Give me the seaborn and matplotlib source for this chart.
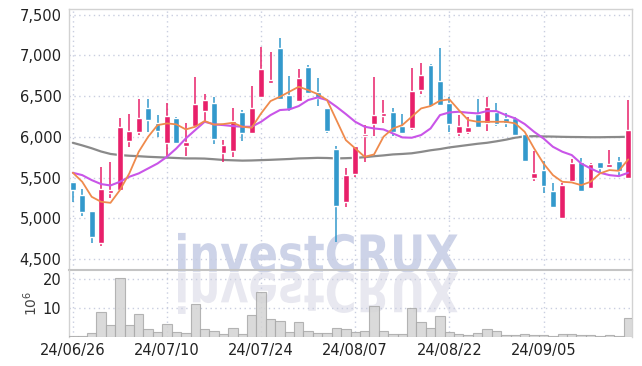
import numpy as np
import pandas as pd
import matplotlib
matplotlib.use('Agg')
import matplotlib.pyplot as plt
import matplotlib.transforms as mtransforms
from matplotlib.textpath import TextPath
from matplotlib.patches import PathPatch
from matplotlib.font_manager import FontProperties
from matplotlib.ticker import FuncFormatter
import seaborn as sns

# daily OHLC (KRW)
open_ = [5444, 5284, 5088, 4699, 5305, 5346, 5952, 6062, 6353, 6169, 5927, 6230, 5890, 6132, 6321,
         6411, 5796, 5829, 6304, 6050, 6492, 6656, 7090, 6513, 6443, 6861, 6550, 6357, 5850, 5194,
         5538, 6009, 6153, 6259, 6300, 6132, 6103, 6574, 6881, 6689, 6419, 6050, 6062, 6275, 6165,
         6308, 6226, 6226, 6034, 5497, 5592, 5333, 5006, 5456, 5686, 5366, 5694, 5633, 5702, 5497]
close = [5346, 5080, 4773, 5358, 5346, 6120, 6071, 6230, 6206, 6075, 6255, 5927, 5935, 6398, 6451,
         5968, 5898, 6198, 6050, 6353, 6832, 6697, 6464, 6337, 6722, 6533, 6472, 6075, 5153, 5530,
         5886, 6030, 6263, 6279, 6062, 6050, 6562, 6758, 6378, 6390, 6153, 6132, 6116, 6116, 6362,
         6157, 6173, 6022, 5706, 5551, 5399, 5141, 5407, 5673, 5333, 5665, 5620, 5653, 5583, 6083]
high = [5450, 5354, 5088, 5624, 5686, 6226, 6275, 6460, 6460, 6267, 6419, 6247, 6173, 6738, 6521,
        6492, 5960, 6349, 6329, 6623, 7107, 7037, 7209, 6746, 6828, 6881, 6718, 6357, 5890, 5612,
        5886, 6144, 6730, 6452, 6349, 6275, 6849, 6902, 6894, 7086, 6484, 6267, 6247, 6460, 6484,
        6419, 6296, 6247, 6034, 5829, 5706, 5428, 5436, 5727, 5735, 5673, 5694, 5837, 5747, 6452]
low = [5203, 5031, 4699, 4662, 5243, 5346, 5870, 6021, 6062, 6001, 5755, 5927, 5763, 6132, 6185,
       5911, 5686, 5755, 5952, 6050, 6492, 6644, 6452, 6320, 6443, 6521, 6382, 6042, 4703, 5141,
       5510, 5686, 6009, 6173, 6009, 6050, 6083, 6525, 6378, 6390, 6062, 6009, 6034, 6116, 6075,
       6132, 6124, 6022, 5706, 5456, 5313, 5141, 5006, 5436, 5333, 5366, 5538, 5633, 5530, 5489]

# volume in millions of shares
volume = [0.55, 0.6, 1.5, 8.6, 4.2, 20.4, 4.2, 8.0, 2.8, 1.8, 4.6, 1.8, 1.5, 11.5, 2.8,
          2.2, 1.2, 3.2, 1.2, 7.7, 15.5, 6.2, 5.5, 1.8, 5.2, 2.2, 1.5, 1.5, 3.1, 2.8,
          1.8, 2.2, 10.8, 2.2, 1.2, 1.2, 10.1, 5.2, 3.1, 7.3, 1.8, 1.2, 0.7, 1.5, 2.8,
          2.1, 0.7, 0.7, 1.2, 0.7, 0.7, 0.4, 1.2, 1.2, 0.7, 0.7, 0.4, 0.7, 0.4, 6.5]

# moving average lines as drawn
ma5 = [5559, 5448, 5264, 5203, 5190, 5346, 5551, 5817, 6001, 6144, 6165, 6153, 6091, 6124, 6194,
       6150, 6157, 6173, 6124, 6112, 6288, 6439, 6492, 6554, 6615, 6574, 6525, 6452, 6206, 5960,
       5858, 5755, 5784, 6001, 6103, 6144, 6247, 6349, 6378, 6444, 6460, 6329, 6206, 6185, 6185,
       6185, 6185, 6165, 6062, 5858, 5673, 5530, 5448, 5440, 5407, 5448, 5551, 5592, 5583, 5723]
ma10 = [5559, 5530, 5469, 5420, 5403, 5448, 5510, 5551, 5612, 5673, 5755, 5858, 5980, 6083, 6185,
        6153, 6144, 6132, 6124, 6124, 6185, 6267, 6329, 6337, 6378, 6452, 6484, 6452, 6370, 6280,
        6185, 6124, 6103, 6091, 6042, 5993, 5989, 6022, 6103, 6267, 6300, 6308, 6296, 6288, 6316,
        6316, 6267, 6226, 6157, 6062, 5980, 5878, 5817, 5776, 5673, 5612, 5559, 5530, 5518, 5559]
ma_long = [5927, 5895, 5860, 5820, 5790, 5776, 5768, 5762, 5755, 5750, 5745, 5740, 5735, 5735, 5733,
           5725, 5716, 5712, 5708, 5710, 5714, 5718, 5723, 5728, 5735, 5738, 5742, 5740, 5735, 5738,
           5742, 5750, 5762, 5772, 5784, 5790, 5798, 5815, 5835, 5850, 5870, 5885, 5900, 5915, 5927,
           5945, 5965, 5990, 6005, 6008, 6005, 6003, 6000, 5998, 5997, 5995, 5995, 5997, 5998, 6001]

tick_pos = [0, 10, 20, 30, 40, 50]
tick_labels = ['24/06/26', '24/07/10', '24/07/24', '24/08/07', '24/08/22', '24/09/05']

df = pd.DataFrame({'open': open_, 'close': close, 'high': high, 'low': low,
                   'volume': volume, 'ma5': ma5, 'ma10': ma10, 'ma_long': ma_long})
df['i'] = np.arange(len(df))

UP = '#e8206a'
DOWN = '#3399cc'
GRID = '#c9cee0'

sns.set_style('white')
plt.rcParams['font.family'] = ['DejaVu Sans']

fig = plt.figure(figsize=(6.42, 3.66), dpi=100)
W, H = 642, 366
L, R = 68.5, 632
ax1 = fig.add_axes([L / W, 1 - 270 / H, (R - L) / W, (270 - 9.3) / H])
ax2 = fig.add_axes([L / W, 1 - 337.3 / H, (R - L) / W, (337.3 - 270) / H])
for ax in (ax1, ax2):
    ax.set_facecolor('none')

# watermark with its reflection, behind the axes
fp = FontProperties(family='DejaVu Sans', weight='bold')
tp = TextPath((0, 0), 'investCRUX', size=1, prop=fp)
bb = tp.get_extents()
sx = 280 / bb.width
base_y = (H - 271.7) / 100
main_t = mtransforms.Affine2D().translate(-bb.x0, 0).scale(sx / 100, 39.5 / bb.height / 100) \
    .translate(178 / 100, base_y) + fig.dpi_scale_trans
refl_t = mtransforms.Affine2D().translate(-bb.x0, 0).scale(sx / 100, -42 / bb.height / 100) \
    .translate(178 / 100, base_y - 0.01) + fig.dpi_scale_trans
fig.add_artist(PathPatch(tp, transform=main_t, facecolor='#cdd3e8', edgecolor='none', zorder=-2))
fig.add_artist(PathPatch(tp, transform=refl_t, facecolor='#e8e8f0', edgecolor='none', zorder=-2))

# candles
up = df['close'] >= df['open']
colors = np.where(up, UP, DOWN)
body_lo = np.minimum(df['open'], df['close'])
body_h = np.maximum((df['close'] - df['open']).abs(), 30)
ax1.vlines(df['i'], df['low'], df['high'], colors=colors, linewidth=1.1, zorder=3)
ax1.bar(df['i'], body_h, bottom=body_lo, width=0.62, color=colors, zorder=4)

sns.lineplot(data=df, x='i', y='ma_long', ax=ax1, color='#8a8a8a', linewidth=1.6, zorder=2)
sns.lineplot(data=df, x='i', y='ma10', ax=ax1, color='#c955e8', linewidth=1.5, zorder=5)
sns.lineplot(data=df, x='i', y='ma5', ax=ax1, color='#ef8a4c', linewidth=1.3, zorder=6)

ax1.set_xlim(-0.46, 59.4)
ax1.set_ylim(4365, 7566)
ax1.set_yticks(range(4500, 7501, 500))
ax1.yaxis.set_major_formatter(FuncFormatter(lambda v, p: f'{int(v):,}'))
ax1.set_xticks(tick_pos)
ax1.set_xticklabels([])
ax1.set_xlabel('')
ax1.set_ylabel('')

# volume
sns.barplot(data=df, x='i', y='volume', ax=ax2, color='#d4d4d4', width=1.0,
            edgecolor='#a9a9a9', linewidth=0.8, saturation=1, alpha=0.85, zorder=3)
ax2.set_xlim(-0.46, 59.4)
ax2.set_ylim(0, 23.2)
ax2.set_yticks([10, 20])
ax2.set_xticks(tick_pos)
ax2.set_xticklabels(tick_labels)
ax2.set_xlabel('')
ax2.set_ylabel(r'$10^6$', fontsize=10, color='#444444')
ax2.yaxis.set_label_coords(-0.05, 0.5)

for ax in (ax1, ax2):
    ax.grid(True, color=GRID, linestyle=(0, (1, 2.5)), linewidth=1)
    ax.tick_params(length=0, labelsize=10.5, labelcolor='#222222', pad=5)
    for s in ax.spines.values():
        s.set_color('#d2d2d2')
        s.set_linewidth(1)
ax1.spines['bottom'].set_color('#c4c4c4')
ax1.spines['bottom'].set_linewidth(1.5)
ax2.spines['top'].set_visible(False)
ax2.spines['bottom'].set_visible(False)
ax2.tick_params(axis='x', pad=4)

fig.savefig('out.png', dpi=100, facecolor='white')
